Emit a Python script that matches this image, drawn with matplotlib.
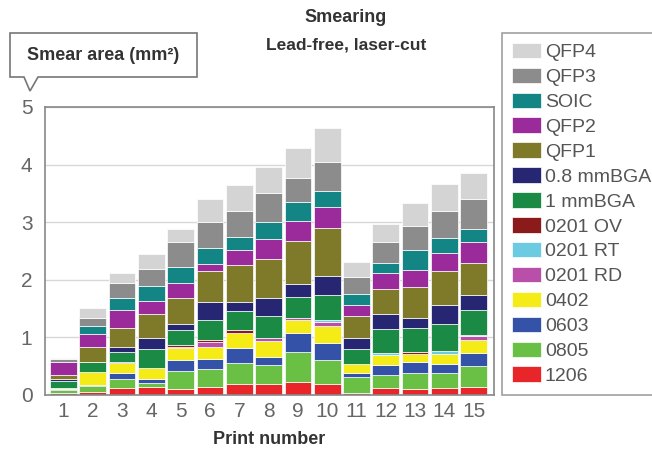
# Stacked bar chart of smear area per print, lead-free laser-cut stencil.

import matplotlib.pyplot as plt
import numpy as np
from matplotlib.patches import Polygon

# Data
prints = list(range(1, 16))
series = ['1206', '0805', '0603', '0402', '0201 RD', '0201 RT', '0201 OV',
          '1 mmBGA', '0.8 mmBGA', 'QFP1', 'QFP2', 'SOIC', 'QFP3', 'QFP4']

s1206 = [0.04, 0.06, 0.12, 0.14, 0.10, 0.14, 0.19, 0.19, 0.23, 0.19, 0.04, 0.12, 0.10, 0.12, 0.14]
s0805 = [0.05, 0.09, 0.16, 0.07, 0.31, 0.32, 0.36, 0.33, 0.52, 0.41, 0.28, 0.23, 0.29, 0.26, 0.36]
s0603 = [0.01, 0.02, 0.10, 0.06, 0.20, 0.17, 0.26, 0.14, 0.32, 0.31, 0.07, 0.17, 0.19, 0.16, 0.23]
s0402 = [0.02, 0.23, 0.17, 0.20, 0.20, 0.20, 0.26, 0.27, 0.24, 0.29, 0.15, 0.17, 0.13, 0.17, 0.22]
s0201rd = [0, 0, 0, 0, 0.02, 0.09, 0, 0.06, 0.03, 0.06, 0, 0, 0, 0, 0.07]
s0201rt = [0, 0, 0, 0, 0, 0, 0, 0, 0, 0.05, 0, 0.04, 0, 0.06, 0.02]
s0201ov = [0.01, 0, 0.03, 0, 0.04, 0.04, 0.06, 0, 0, 0, 0, 0, 0.03, 0, 0]
bga1 = [0.12, 0.17, 0.17, 0.32, 0.25, 0.35, 0.32, 0.38, 0.36, 0.43, 0.25, 0.42, 0.42, 0.46, 0.44]
bga08 = [0.03, 0, 0.09, 0.20, 0.12, 0.31, 0.17, 0.31, 0.22, 0.32, 0.20, 0.26, 0.17, 0.33, 0.25]
qfp1 = [0.06, 0.26, 0.32, 0.42, 0.45, 0.53, 0.64, 0.68, 0.75, 0.84, 0.39, 0.43, 0.54, 0.60, 0.57]
qfp2 = [0.24, 0.23, 0.32, 0.23, 0.25, 0.13, 0.25, 0.35, 0.35, 0.36, 0.19, 0.27, 0.30, 0.31, 0.35]
soic = [0, 0.14, 0.20, 0.25, 0.29, 0.28, 0.23, 0.29, 0.33, 0.29, 0.19, 0.19, 0.35, 0.25, 0.24]
qfp3 = [0.04, 0.14, 0.26, 0.29, 0.43, 0.45, 0.46, 0.50, 0.42, 0.49, 0.29, 0.35, 0.42, 0.48, 0.51]
qfp4 = [0.03, 0.17, 0.17, 0.26, 0.23, 0.39, 0.45, 0.45, 0.52, 0.60, 0.26, 0.32, 0.39, 0.46, 0.46]

values = [s1206, s0805, s0603, s0402, s0201rd, s0201rt, s0201ov,
          bga1, bga08, qfp1, qfp2, soic, qfp3, qfp4]
colors = ['#e8262a', '#6abf45', '#3352a8', '#f5eb16', '#b94fa8', '#6ccbe0', '#8b1a1a',
          '#1a8a45', '#262673', '#7f7a2a', '#9b2b9b', '#138585', '#8c8c8c', '#d4d4d4']

plt.rcParams['font.family'] = ['Liberation Sans', 'DejaVu Sans']

fig = plt.figure(figsize=(6.52, 4.54), dpi=100)
ax = fig.add_axes([45 / 652, 1 - 395 / 454, 449 / 652, 288 / 454])

bottom = np.zeros(len(prints))
handles = []
for name, vals, col in zip(series, values, colors):
    b = ax.bar(prints, vals, bottom=bottom, width=0.91, color=col,
               edgecolor='white', linewidth=0.5, label=name, zorder=2)
    handles.append(b)
    bottom += np.array(vals)

ax.set_xlim(0.375, 15.69)
ax.set_ylim(0, 5)
ax.set_yticks([0, 1, 2, 3, 4, 5])
ax.set_xticks(prints)
ax.yaxis.grid(True, color='#d8d8d8', linewidth=1, zorder=0)
ax.tick_params(length=0, labelsize=15, colors='#666666')
ax.tick_params(axis='y', pad=9)
ax.tick_params(axis='x', pad=5)
for s in ax.spines.values():
    s.set_color('#888888')
    s.set_linewidth(1.2)
ax.set_xlabel('Print number', fontsize=13, fontweight='bold', color='#333333', labelpad=7)

# titles
fig.text(346 / 652, 1 - 18 / 454, 'Smearing', ha='center', va='center',
         fontsize=13, fontweight='bold', color='#333333')
fig.text(346 / 652, 1 - 45 / 454, 'Lead-free, laser-cut', ha='center', va='center',
         fontsize=12.5, fontweight='bold', color='#333333')

# callout box for the y axis label
pts = [(10, 33), (197, 33), (197, 77), (38, 77), (30, 91), (24, 77), (10, 77)]
poly = Polygon([(x / 652, 1 - y / 454) for x, y in pts], closed=True,
               transform=fig.transFigure, facecolor='white', edgecolor='#777777', linewidth=1.2)
fig.patches.append(poly)
fig.text(103 / 652, 1 - 56 / 454, 'Smear area (mm²)', ha='center', va='center',
         fontsize=13, fontweight='bold', color='#333333')

# legend, top entry first
leg = fig.legend(handles[::-1], series[::-1], loc='upper left',
                 bbox_to_anchor=(502 / 652, 1 - 33 / 454), fontsize=14,
                 frameon=True, fancybox=False, handlelength=1.5, handleheight=0.85,
                 handletextpad=0.2, labelspacing=0.33, borderpad=0.5, labelcolor='#555555',
                 borderaxespad=0)
leg.get_frame().set_edgecolor('#888888')
leg.get_frame().set_linewidth(1.2)

fig.savefig('out.png', dpi=100)
